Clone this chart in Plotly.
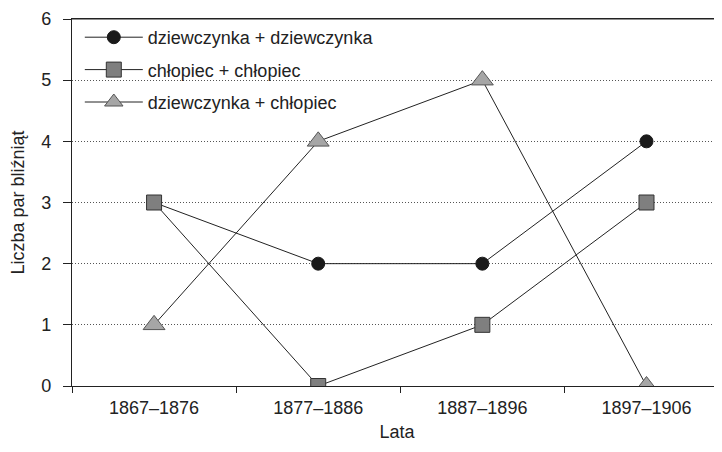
import plotly.graph_objects as go

categories = ["1867–1876", "1877–1886", "1887–1896", "1897–1906"]
girl_girl = [3, 2, 2, 4]
boy_boy = [3, 0, 1, 3]
girl_boy = [1, 4, 5, 0]
y_ticks = [0, 1, 2, 3, 4, 5, 6]

FONT = "Liberation Sans, Arial, sans-serif"

fig = go.Figure()
fig.add_trace(go.Scatter(
    x=categories, y=girl_girl, mode="lines+markers", name="dziewczynka + dziewczynka",
    legendgroup="a",
    line=dict(color="#222222", width=1),
    marker=dict(symbol="circle", size=13, color="#1a1a1a", line=dict(color="#1a1a1a", width=1)),
))
fig.add_trace(go.Scatter(
    x=categories, y=boy_boy, mode="lines+markers", name="chłopiec + chłopiec",
    legendgroup="b",
    line=dict(color="#222222", width=1),
    marker=dict(symbol="square", size=15, color="#7f7f7f", line=dict(color="#333333", width=1)),
))
fig.add_trace(go.Scatter(
    x=categories, y=girl_boy, mode="lines+markers", name="dziewczynka + chłopiec",
    legendgroup="c",
    line=dict(color="#222222", width=1),
    marker=dict(symbol="triangle-up", size=19, color="#a6a6a6", line=dict(color="#555555", width=1)),
))

fig.add_shape(type="line", xref="paper", yref="y", x0=0, x1=1, y0=6, y1=6,
              line=dict(color="#222222", width=1.2))

fig.update_layout(
    width=714, height=444,
    margin=dict(l=64, r=0, t=11, b=66),
    paper_bgcolor="white", plot_bgcolor="white",
    font=dict(family=FONT, size=18, color="#222222"),
    showlegend=True,
    legend=dict(x=0.012, y=1.0, xanchor="left", yanchor="top",
                bgcolor="rgba(0,0,0,0)", font=dict(size=18),
                tracegroupgap=6, itemwidth=58),
    xaxis=dict(
        type="category", range=[-0.5, 3.46], automargin=False,
        tickson="boundaries", ticks="outside", ticklen=6, tickcolor="#222222",
        ticklabelstandoff=5, mirror=True,
        showline=True, linecolor="#222222", linewidth=1.2,
        showgrid=False, zeroline=False,
        tickfont=dict(size=18),
        title=dict(text="Lata", font=dict(size=18), standoff=8),
    ),
    yaxis=dict(
        range=[0, 6], tickvals=y_ticks, automargin=False,
        ticks="outside", ticklen=8, tickcolor="#222222", ticklabelstandoff=8,
        ticklabeloverflow="allow",
        showline=True, linecolor="#222222", linewidth=1.2,
        showgrid=True, gridcolor="#555555", griddash="1px,2px", gridwidth=1,
        zeroline=False,
        tickfont=dict(size=18),
        title=dict(text="Liczba par bliźniąt", font=dict(size=18), standoff=14),
    ),
)

fig.write_html("out.html")
